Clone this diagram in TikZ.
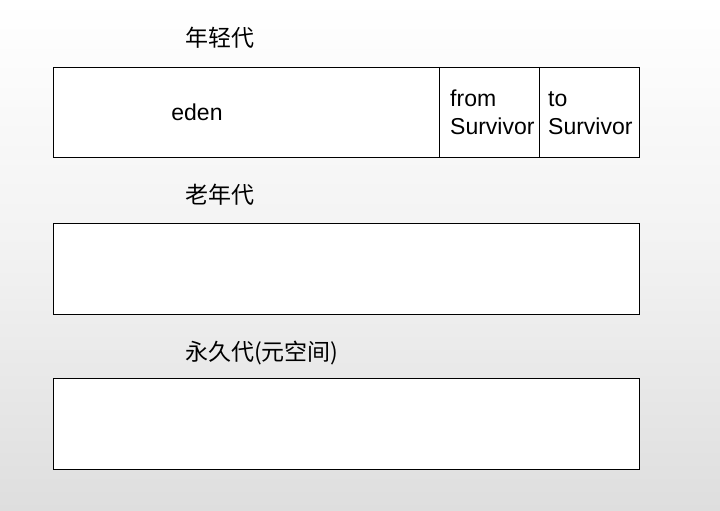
\documentclass[tikz,border=0pt]{standalone}
\usepackage{fontspec}
\setmainfont{Liberation Sans}
\newfontfamily\cjk{Noto Sans CJK SC}
\definecolor{bgbottom}{HTML}{DEDEDE}
\begin{document}
\begin{tikzpicture}[x=1pt, y=-1pt, every node/.style={inner sep=0pt, font=\fontsize{23}{28}\selectfont}]
			% background
			\shade[top color=white, bottom color=bgbottom, middle color=white!60!bgbottom] (0,0) rectangle (720,511);
			\useasboundingbox (0,0) rectangle (720,511);

			% young generation
			\node[anchor=west] (young) at (185,38) [] {\cjk 年轻代};
			\draw[fill=white, line width=0.8pt] (53,67) rectangle (639,157);
			\draw[line width=0.8pt] (439,67) -- (439,157);
			\draw[line width=0.8pt] (539,67) -- (539,157);
			\node (eden) at (197,112) [] {eden};
			\node[anchor=west, align=left] (from) at (450,114.5) [] {\strut from\\Survivor\strut};
			\node[anchor=west, align=left] (to) at (548,114.5) [] {\strut to\\Survivor\strut};

			% old generation
			\node[anchor=west] (old) at (185,195) [] {\cjk 老年代};
			\draw[fill=white, line width=0.8pt] (53,223) rectangle (639,314);

			% permanent generation
			\node[anchor=west] (perm) at (185,353) [] {\cjk 永久代(元空间)};
			\draw[fill=white, line width=0.8pt] (53,378) rectangle (639,469);
		\end{tikzpicture}
\end{document}
